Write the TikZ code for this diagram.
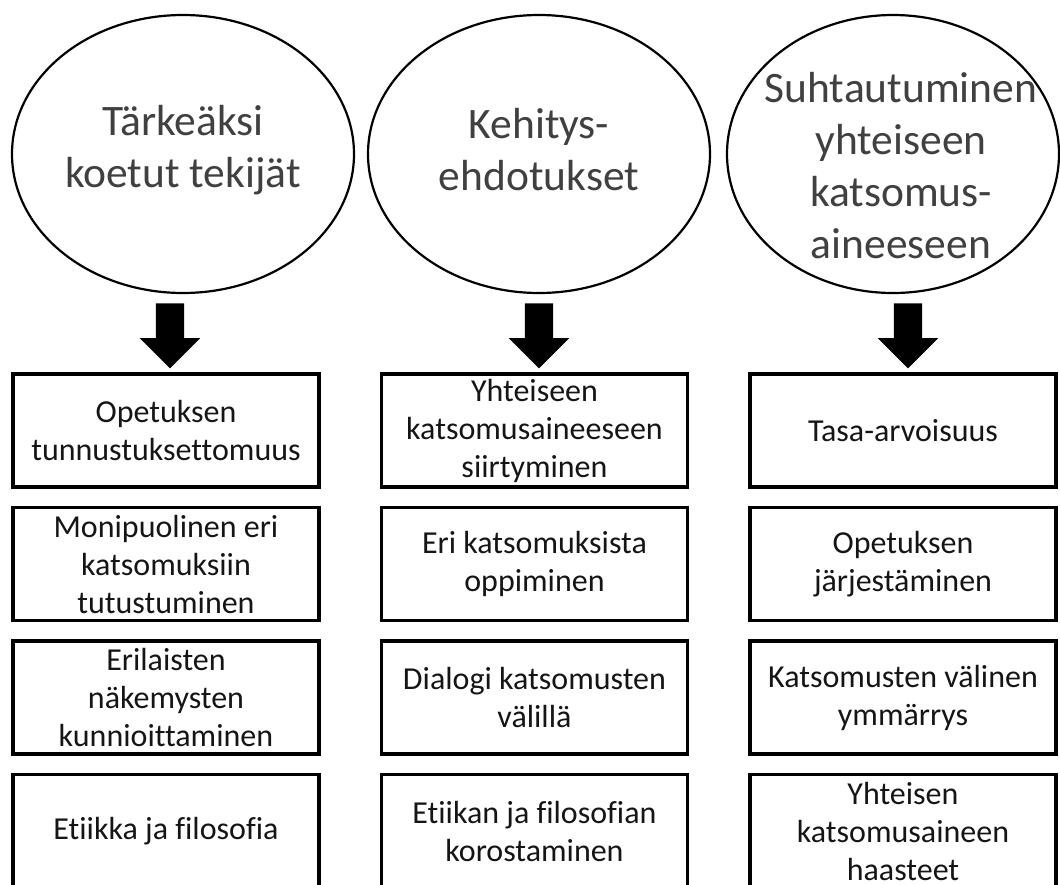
\documentclass[tikz,border=0pt]{standalone}
\usepackage{fontspec}
\setmainfont{Carlito}[Ligatures=NoCommon]
\usetikzlibrary{%
   shapes.geometric,%
   shapes.arrows,%
   matrix,%
   positioning%
}
\definecolor{headtext}{HTML}{404040}
\definecolor{boxtext}{HTML}{151515}

\begin{document}
\begin{tikzpicture}[x=1pt,y=-1pt,
	bubble/.style={
	ellipse,
	minimum width=342pt,
	minimum height=278pt,
	inner sep=0pt,
	line width=2.2pt,
	draw=black
	},bubbletext/.style={
	align=center,
	text=headtext,
	font=\fontsize{43.5}{52}\selectfont
	},item/.style={
	rectangle,
	minimum width=306pt,
	minimum height=113pt,
	inner sep=0pt,
	line width=3.5pt,
	draw=black,
	align=center,
	text=boxtext,
	font=\fontsize{32}{38}\selectfont
	},bigarrow/.style={
	single arrow,
	fill=black,
	rotate=-90,
	anchor=tail,
	minimum height=65pt,
	inner sep=14pt,
	single arrow head extend=16pt
	}
]
\useasboundingbox (0,0) rectangle (1060,884);

% headings
\node (e1) [bubble] at (183,154) {};
\node (e2) [bubble] at (539,154) {};
\node (e3) [bubble, minimum width=332pt] at (893,154) {};
\node (t1) [bubbletext, yshift=4pt] at (e1.center) {Tärkeäksi\\ koetut tekijät};
\node (t2) [bubbletext, yshift=4pt] at (e2.center) {Kehitys-\\ ehdotukset};
\node (t3) [bubbletext, xshift=8pt, yshift=-12pt] at (e3.center) {Suhtautuminen\\ yhteiseen\\ katsomus-\\ aineeseen};

% arrows
\node (a1) [bigarrow] at ([xshift=-13pt, yshift=-9pt]e1.south) {};
\node (a2) [bigarrow] at ([yshift=-9pt]e2.south) {};
\node (a3) [bigarrow] at ([xshift=15pt, yshift=-9pt]e3.south) {};

% boxes
\matrix (grid) [row sep=17pt, column sep=59pt] at (534.5,630.75) {
\node (r1c1) [item] {Opetuksen\\ tunnustuksettomuus}; &
\node (r1c2) [item] {Yhteiseen\\ katsomusaineeseen\\ siirtyminen}; &
\node (r1c3) [item] {Tasa-arvoisuus}; \\
\node (r2c1) [item] {Monipuolinen eri\\ katsomuksiin\\ tutustuminen}; &
\node (r2c2) [item] {Eri katsomuksista\\ oppiminen}; &
\node (r2c3) [item] {Opetuksen\\ järjestäminen}; \\
\node (r3c1) [item] {Erilaisten\\ näkemysten\\ kunnioittaminen}; &
\node (r3c2) [item] {Dialogi katsomusten\\ välillä}; &
\node (r3c3) [item] {Katsomusten välinen\\ ymmärrys}; \\
\node (r4c1) [item] {Etiikka ja filosofia}; &
\node (r4c2) [item] {Etiikan ja filosofian\\ korostaminen}; &
\node (r4c3) [item] {Yhteisen\\ katsomusaineen\\ haasteet}; \\
};

\end{tikzpicture}
\end{document}
